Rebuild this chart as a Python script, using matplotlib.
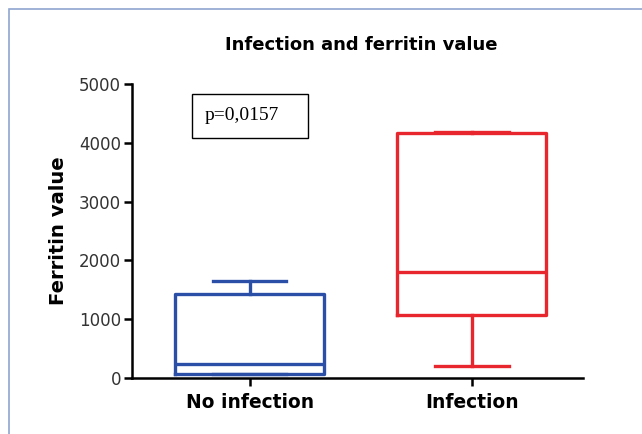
import matplotlib
matplotlib.use("Agg")
import matplotlib.pyplot as plt
from matplotlib.patches import Rectangle

# valores
grupos = ["No infection", "Infection"]
minimo = [60, 205]
q1 = [60, 1070]
mediana = [240, 1800]
q3 = [1430, 4165]
maximo = [1650, 4180]
colores = ["#2b4ea6", "#e8262d"]

plt.rcParams['font.family'] = ['DejaVu Sans']

fig = plt.figure(figsize=(6.42, 4.34), dpi=100)
ax = fig.add_axes([132/642, 1-378/434, (583-132)/642, (378-84)/434])

stats = []
for i in range(len(grupos)):
    stats.append({"label": grupos[i], "whislo": minimo[i], "q1": q1[i],
                  "med": mediana[i], "q3": q3[i], "whishi": maximo[i]})

for i, s in enumerate(stats):
    c = colores[i]
    ax.bxp([s], positions=[i+1], widths=0.67, showfliers=False,
           boxprops=dict(color=c, linewidth=2.4),
           medianprops=dict(color=c, linewidth=2.4),
           whiskerprops=dict(color=c, linewidth=2.4),
           capprops=dict(color=c, linewidth=2.4),
           capwidths=0.33)

ax.set_xlim(0.47, 2.5)
ax.set_ylim(0, 5000)
ax.set_yticks([0, 1000, 2000, 3000, 4000, 5000])
ax.set_xticks([1, 2])
ax.set_xticklabels(grupos, fontsize=13.4, fontweight='bold')
ax.tick_params(axis='y', labelsize=12, labelcolor='#333333', width=1.8, length=6, pad=2)
ax.tick_params(axis='x', width=1.8, length=6, pad=5)
for side in ['top', 'right']:
    ax.spines[side].set_visible(False)
for side in ['left', 'bottom']:
    ax.spines[side].set_linewidth(1.8)

ax.set_ylabel("Ferritin value", fontsize=14.1, fontweight='bold', labelpad=8)
fig.text(361/642, 1-45/434, "Infection and ferritin value", fontsize=13,
         fontweight='bold', ha='center', va='center')

# caja del valor p
ax.add_patch(Rectangle((0.133, 0.816), 0.257, 0.15, transform=ax.transAxes,
                       facecolor='white', edgecolor='black', linewidth=1.0))
ax.text(0.162, 0.893, "p=0,0157", transform=ax.transAxes, fontsize=14,
        family=['Liberation Serif', 'DejaVu Serif'], va='center', ha='left')

# marco azul claro
fig.patches.append(Rectangle((9/642, -0.1), 1.2, 1-9/434+0.1,
                             transform=fig.transFigure, fill=False,
                             edgecolor='#8fa6cf', linewidth=1.2))

fig.savefig("out.png", dpi=100)
